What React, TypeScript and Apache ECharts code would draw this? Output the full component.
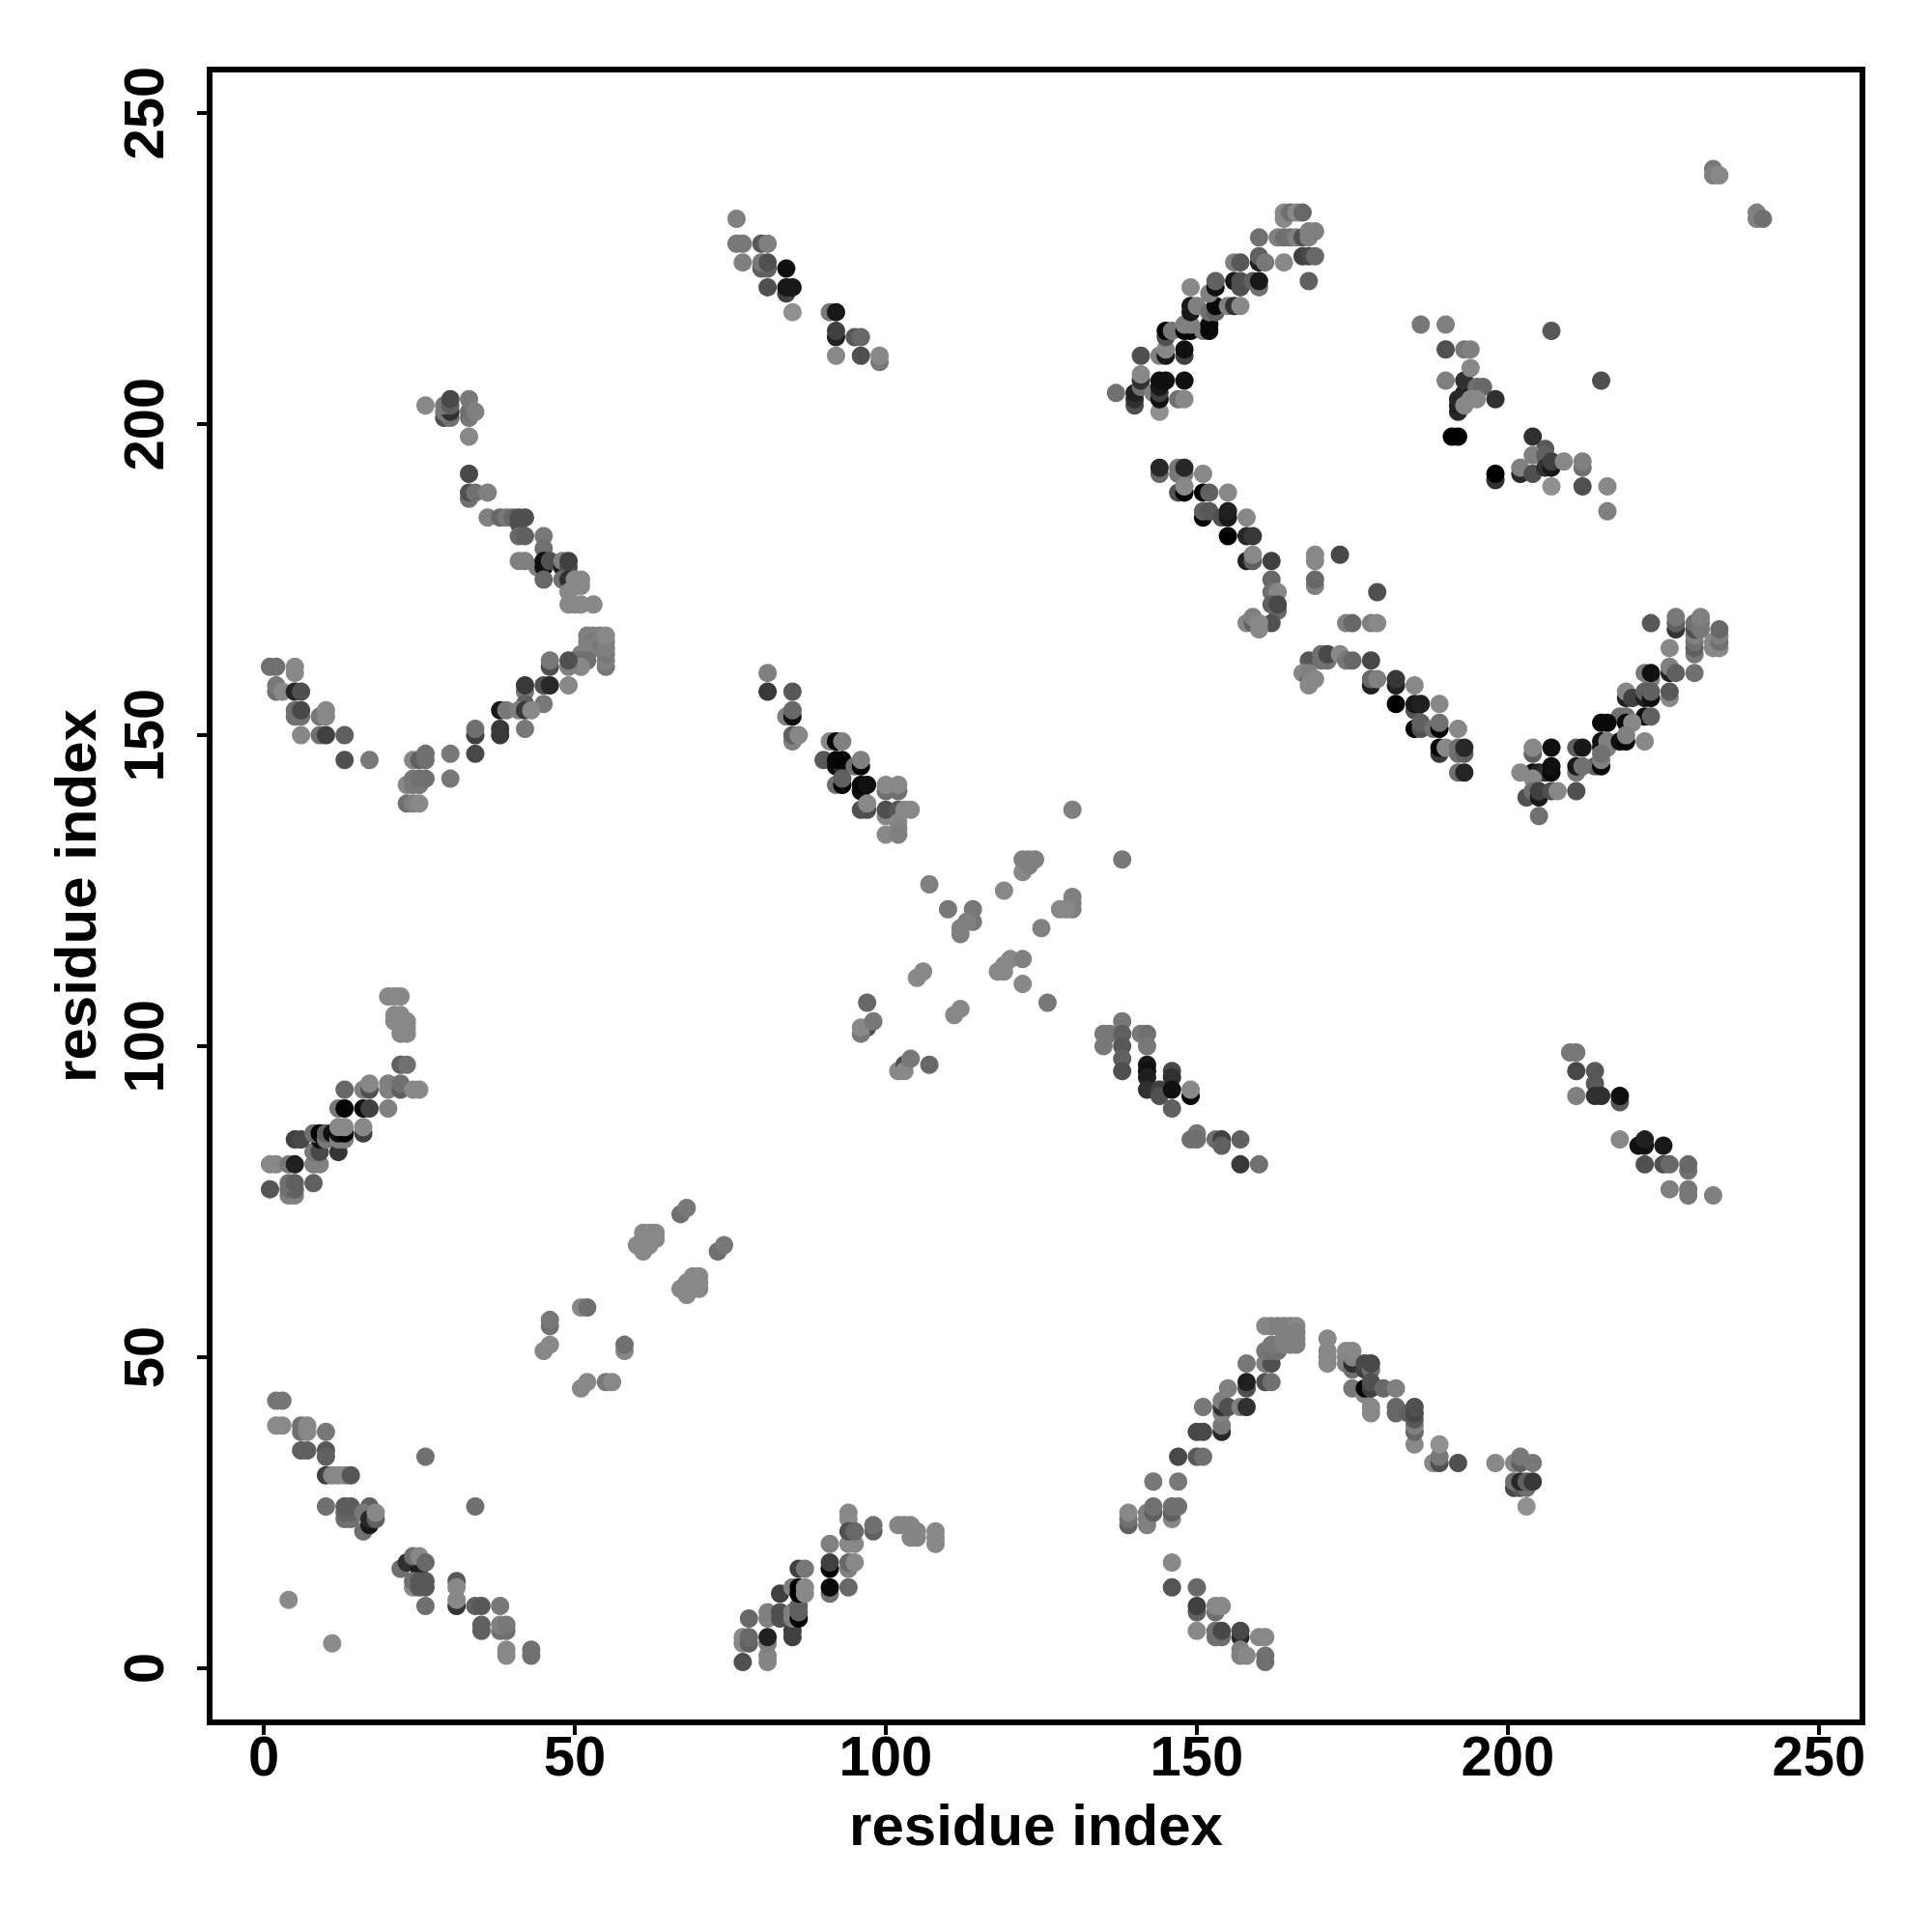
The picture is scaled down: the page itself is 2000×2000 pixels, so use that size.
import React, { useEffect, useRef } from "react";
import * as echarts from "echarts";

type P = [number, number, number];

const tickValues = [0, 50, 100, 150, 200, 250];
const axisTitle = "residue index";

const lowerLeftA: P[] = [[2,43,0x77],[3,43,0x77],[2,39,0x8a],[3,39,0x8a],[6,39,0x70],[6,38,0x70],[7,39,0x88],[7,38,0x88],[10,38,0x78],[6,35,0x60],[7,35,0x60],[10,35,0x58],[10,34,0x60],[10,31,0x40],[11,31,0x85],[12,31,0x88],[13,31,0x88],[14,31,0x55],[10,26,0x70],[13,24,0x70],[14,24,0x70],[13,25,0x64],[14,25,0x64],[13,26,0x5c],[14,26,0x5c],[16,22,0x70],[17,26,0x60],[16,25,0x78],[17,23,0x18],[17,24,0x28],[18,24,0x60],[18,25,0x88],[26,34,0x70],[34,26,0x70],[4,11,0x8a],[11,4,0x8c]];
const lowerLeftB: P[] = [[22,16,0x70],[23,17,0x30],[25,16,0x20],[24,18,0x70],[25,18,0x88],[26,17,0x68],[24,13,0x88],[24,14,0x70],[25,13,0x58],[25,14,0x58],[26,13,0x58],[26,14,0x58],[26,10,0x70],[31,10,0x35],[31,14,0x58],[31,13,0x88],[31,11,0x88],[34,10,0x60],[35,10,0x58],[38,10,0x78],[35,6,0x60],[35,7,0x60],[38,6,0x70],[39,6,0x70],[38,7,0x80],[39,7,0x78],[39,3,0x88],[39,2,0x88],[43,3,0x70],[43,2,0x70]];
const lowerMid: P[] = [[77,1,0x50],[81,1,0x85],[81,2,0x85],[77,4,0x88],[77,5,0x88],[78,4,0x60],[78,5,0x68],[78,8,0x68],[81,4,0x80],[81,5,0x20],[81,8,0x80],[81,9,0x80],[83,12,0x40],[83,8,0x50],[83,9,0x50],[85,5,0x40],[85,6,0x40],[85,8,0x80],[85,9,0x80],[86,8,0x00],[86,9,0x60],[86,10,0x60],[85,13,0x80],[86,12,0x00],[86,13,0x00],[87,12,0x88],[87,13,0x88],[86,16,0x40],[87,16,0x78],[91,16,0x00],[91,17,0x40],[91,12,0x70],[91,13,0x08],[91,20,0x80],[94,16,0x80],[94,17,0x68],[95,17,0x88],[94,13,0x68],[94,25,0x88],[94,24,0x88],[94,20,0x88],[95,20,0x88],[94,22,0x50],[95,22,0x68],[98,22,0x60],[98,23,0x70],[102,23,0x85],[103,23,0x85],[104,23,0x85],[104,22,0x85],[104,21,0x85],[105,22,0x85],[105,21,0x85],[108,22,0x88],[108,21,0x88],[108,20,0x88]];
const lowerRightLow: P[] = [[146,17,0x88],[146,13,0x55],[150,13,0x68],[150,9,0x60],[150,10,0x40],[153,9,0x70],[153,10,0x88],[154,10,0x88],[150,6,0x88],[153,5,0x70],[154,5,0x70],[153,6,0x70],[154,6,0x48],[157,5,0x28],[157,6,0x48],[157,3,0x80],[157,2,0x80],[158,2,0x88],[160,5,0x88],[161,5,0x88],[161,1,0x70],[161,2,0x70]];
const lowerRightUpLeft: P[] = [[139,23,0x60],[139,24,0x70],[139,25,0x88],[142,23,0x80],[142,24,0x80],[142,25,0x80],[143,25,0x60],[143,26,0x70],[146,24,0x88],[146,25,0x60],[146,26,0x70],[147,26,0x70],[143,30,0x78],[147,30,0x78],[147,34,0x48],[150,34,0x58],[151,34,0x70],[150,38,0x48],[151,38,0x48],[154,38,0x28],[154,39,0x78],[151,42,0x78],[154,41,0x80],[154,42,0x30],[154,43,0x80],[155,42,0x50],[155,45,0x80],[157,42,0x80],[158,42,0x30],[158,45,0x50],[158,46,0x20],[158,49,0x78],[161,46,0x50],[162,46,0x70],[161,49,0x80],[162,49,0x50],[161,51,0x78],[162,51,0x70],[163,51,0x70],[162,52,0x78],[161,55,0x88],[162,55,0x84],[163,55,0x80],[164,55,0x80],[165,55,0x80],[166,55,0x88],[164,54,0x80],[165,54,0x80],[166,54,0x80],[164,53,0x80],[165,53,0x80],[166,53,0x80],[164,52,0x80],[165,52,0x80],[166,52,0x80]];
const lowerRightUpRight: P[] = [[171,53,0x88],[171,51,0x88],[171,50,0x88],[171,49,0x88],[174,49,0x80],[174,50,0x84],[174,51,0x88],[175,48,0x70],[175,49,0x30],[175,50,0x84],[175,51,0x88],[177,48,0x40],[177,49,0x48],[178,48,0x70],[178,49,0x48],[175,45,0x78],[177,44,0x88],[177,45,0x08],[178,45,0x40],[178,46,0x50],[180,45,0x68],[182,45,0x80],[178,41,0x88],[178,42,0x88],[182,41,0x68],[182,42,0x68],[184,41,0x60],[185,36,0x88],[185,38,0x68],[185,39,0x80],[185,40,0x58],[185,41,0x48],[185,42,0x50],[188,33,0x88],[189,33,0x50],[189,34,0x78],[189,36,0x90],[192,33,0x50],[198,33,0x88],[201,33,0x88],[202,33,0x60],[202,34,0x78],[204,33,0x78],[201,29,0x48],[202,29,0x58],[203,29,0x70],[201,30,0x70],[202,30,0x28],[203,30,0x60],[204,30,0x38],[203,26,0x90]];
const leftMid: P[] = [[1,77,0x55],[4,76,0x80],[5,76,0x80],[4,77,0x70],[5,77,0x60],[4,78,0x70],[5,78,0x60],[8,78,0x60],[1,81,0x88],[2,81,0x88],[4,81,0x78],[5,81,0x20],[8,81,0x80],[9,81,0x80],[8,83,0x78],[9,83,0x48],[12,83,0x35],[5,85,0x40],[6,85,0x48],[9,85,0x10],[8,86,0x70],[9,86,0x00],[10,85,0x78],[10,86,0x60],[11,86,0x10],[12,85,0x80],[13,85,0x80],[12,86,0x10],[13,86,0x00],[12,87,0x88],[13,87,0x88],[16,86,0x40],[16,87,0x88],[12,90,0x78],[13,90,0x05],[16,90,0x08],[17,90,0x40],[20,90,0x80],[13,93,0x68],[16,93,0x80],[17,93,0x50],[17,94,0x88],[20,93,0x80],[20,94,0x80],[22,93,0x60],[22,94,0x70],[24,93,0x88],[25,93,0x88],[22,97,0x60],[23,97,0x70],[20,108,0x88],[21,108,0x88],[22,108,0x88],[21,105,0x88],[22,105,0x88],[21,104,0x88],[22,104,0x88],[23,104,0x88],[22,103,0x88],[23,103,0x88],[22,102,0x88],[23,102,0x88]];
const centreLow: P[] = [[45,51,0x88],[46,52,0x88],[46,55,0x70],[46,56,0x78],[51,58,0x88],[52,58,0x70],[58,51,0x88],[58,52,0x70],[51,45,0x88],[52,46,0x88],[55,46,0x78],[56,46,0x88],[60,68,0x88],[61,67,0x88],[61,68,0x88],[62,68,0x88],[61,69,0x88],[62,69,0x88],[63,69,0x88],[61,70,0x88],[62,70,0x88],[63,70,0x88],[67,73,0x70],[68,74,0x78],[73,67,0x70],[74,68,0x78],[67,61,0x88],[68,60,0x88],[68,62,0x88],[69,61,0x88],[70,61,0x88],[69,62,0x88],[70,62,0x88],[69,63,0x88],[70,63,0x88]];
const leftUpperArc: P[] = [[26,203,0x88],[29,201,0x50],[30,201,0x70],[29,202,0x78],[30,202,0x30],[29,203,0x78],[30,203,0x60],[30,204,0x48],[33,201,0x78],[33,202,0x70],[33,204,0x78],[34,202,0x80],[33,198,0x88],[33,192,0x48],[33,188,0x70],[33,189,0x50],[34,189,0x70],[36,189,0x80],[36,185,0x80],[38,185,0x68],[39,185,0x78],[40,185,0x68],[41,184,0x50],[41,185,0x50],[42,185,0x50],[41,182,0x68],[42,182,0x60],[45,182,0x78],[45,180,0x70],[41,178,0x80],[42,178,0x80],[44,177,0x80],[45,177,0x10],[45,178,0x10],[46,178,0x50],[48,177,0x20],[48,178,0x80],[49,177,0x50],[49,178,0x40],[45,175,0x68],[48,175,0x70],[49,175,0x30],[50,174,0x88],[50,175,0x88],[51,174,0x88],[51,175,0x88],[49,173,0x88],[49,171,0x88],[50,171,0x88],[51,171,0x88],[53,171,0x88]];
const leftLowerArc: P[] = [[52,166,0x80],[53,166,0x80],[54,166,0x80],[52,165,0x80],[53,165,0x78],[54,165,0x80],[52,164,0x80],[54,164,0x78],[55,161,0x78],[55,162,0x80],[55,163,0x78],[55,164,0x80],[55,165,0x80],[55,166,0x88],[51,163,0x80],[52,163,0x80],[50,162,0x78],[51,162,0x70],[52,162,0x70],[51,161,0x88],[49,161,0x80],[49,162,0x50],[46,161,0x50],[46,162,0x78],[42,157,0x78],[42,158,0x38],[45,158,0x50],[46,158,0x28],[49,158,0x88],[42,155,0x60],[45,155,0x78],[38,154,0x18],[39,154,0x78],[41,154,0x80],[42,154,0x38],[43,154,0x88],[42,151,0x78],[38,150,0x38],[38,151,0x38],[34,150,0x40],[34,151,0x70],[34,147,0x48],[30,147,0x78],[30,143,0x78],[24,146,0x88],[25,146,0x60],[26,146,0x70],[26,147,0x70],[23,142,0x88],[24,142,0x78],[25,142,0x78],[24,143,0x78],[25,143,0x70],[26,143,0x70],[23,139,0x70],[24,139,0x80],[25,139,0x88],[1,161,0x70],[2,161,0x70],[5,160,0x88],[5,161,0x88],[2,157,0x70],[2,158,0x78],[3,157,0x88],[5,157,0x25],[6,157,0x50],[5,153,0x70],[5,154,0x70],[6,153,0x70],[6,154,0x48],[9,153,0x78],[10,153,0x88],[10,154,0x88],[6,150,0x88],[9,150,0x70],[10,150,0x40],[13,150,0x60],[13,146,0x50],[17,146,0x78]];
const topMid: P[] = [[76,233,0x80],[76,229,0x78],[77,229,0x78],[77,226,0x80],[80,229,0x58],[81,229,0x80],[80,225,0x60],[81,225,0x60],[80,226,0x78],[81,226,0x50],[81,222,0x50],[84,225,0x10],[84,221,0x40],[84,222,0x18],[85,222,0x18],[85,218,0x90],[91,218,0x78],[92,218,0x18],[92,214,0x20],[92,215,0x40],[95,214,0x58],[96,214,0x68],[92,211,0x88],[96,211,0x50],[99,210,0x78],[99,211,0x88]];
const midLeft: P[] = [[81,160,0x80],[81,157,0x38],[85,157,0x58],[84,153,0x80],[85,153,0x10],[85,154,0x68],[85,149,0x80],[85,150,0x60],[86,150,0x88],[91,149,0x88],[92,149,0x05],[93,149,0x80],[90,146,0x58],[92,145,0x10],[93,145,0x30],[92,146,0x08],[93,146,0x05],[95,145,0x70],[96,145,0x00],[96,146,0x80],[92,142,0x70],[93,142,0x00],[93,143,0x60],[96,141,0x10],[96,142,0x05],[97,142,0x10],[96,138,0x50],[97,138,0x50],[97,139,0x88],[100,141,0x70],[102,141,0x70],[100,142,0x88],[102,142,0x88],[100,137,0x88],[100,138,0x50],[102,138,0x58],[103,138,0x88],[104,138,0x88],[102,136,0x88],[102,135,0x84],[100,134,0x88],[102,134,0x80]];
const centreHigh: P[] = [[97,107,0x68],[97,103,0x50],[96,102,0x78],[96,103,0x88],[98,104,0x78],[102,96,0x88],[103,97,0x50],[103,96,0x88],[104,98,0x78],[107,97,0x68],[105,111,0x88],[106,112,0x88],[111,105,0x88],[112,106,0x88],[130,138,0x80],[138,130,0x78],[122,128,0x88],[123,129,0x80],[122,130,0x80],[123,130,0x80],[124,130,0x80],[119,125,0x88],[125,119,0x80],[130,124,0x80],[130,123,0x80],[130,122,0x80],[128,122,0x88],[129,122,0x88],[120,114,0x88],[122,114,0x80],[118,112,0x88],[119,112,0x88],[119,113,0x88],[107,126,0x80],[110,122,0x78],[114,122,0x78],[114,120,0x78],[113,120,0x80],[112,119,0x80],[112,118,0x80],[126,107,0x78],[122,110,0x88]];
const midRightLow: P[] = [[135,100,0x78],[135,102,0x78],[136,102,0x78],[138,104,0x78],[138,102,0x60],[138,100,0x58],[138,98,0x60],[138,96,0x50],[141,102,0x78],[142,102,0x70],[142,100,0x78],[142,97,0x18],[142,96,0x10],[142,95,0x20],[142,93,0x30],[144,93,0x40],[144,92,0x50],[146,96,0x48],[146,95,0x30],[146,93,0x10],[146,90,0x60],[149,92,0x08],[149,93,0x88],[150,86,0x78],[149,85,0x70],[150,85,0x70],[153,85,0x70],[154,85,0x40],[154,84,0x60],[157,85,0x60],[157,81,0x38],[160,81,0x70],[210,99,0x78],[211,99,0x78],[211,96,0x48],[214,96,0x58],[214,94,0x58],[211,92,0x80],[214,92,0x30],[215,92,0x30],[218,91,0x58],[218,92,0x10],[218,85,0x88],[221,84,0x10],[222,84,0x10],[222,85,0x20],[225,84,0x18],[222,81,0x50],[225,81,0x50],[226,81,0x68],[226,77,0x80],[229,80,0x70],[229,81,0x68],[229,76,0x78],[229,77,0x78],[233,76,0x80]];
const topRightArc: P[] = [[137,205,0x70],[140,203,0x50],[140,204,0x30],[140,205,0x20],[141,206,0x70],[141,207,0x30],[141,208,0x88],[141,211,0x50],[143,205,0x80],[144,202,0x90],[144,204,0x10],[144,205,0x40],[144,206,0x18],[144,207,0x10],[145,207,0x10],[147,204,0x70],[148,204,0x88],[148,207,0x10],[144,211,0x80],[145,211,0x18],[145,212,0x88],[148,211,0x40],[148,212,0x10],[145,214,0x50],[145,215,0x00],[146,215,0x78],[148,215,0x05],[149,215,0x05],[148,216,0x80],[149,216,0x80],[151,215,0x80],[152,215,0x08],[152,216,0x08],[149,218,0x18],[149,219,0x18],[150,219,0x80],[149,222,0x88],[152,218,0x70],[153,218,0x60],[153,219,0x08],[152,221,0x80],[153,222,0x10],[153,223,0x60],[155,219,0x80],[156,219,0x30],[157,219,0x88],[156,223,0x18],[157,222,0x50],[157,223,0x50],[159,223,0x60],[160,222,0x70],[160,223,0x18],[156,226,0x80],[157,226,0x58],[160,230,0x70],[160,226,0x20],[160,227,0x60],[161,226,0x78],[164,226,0x88],[163,230,0x80],[164,230,0x70],[165,230,0x70],[166,230,0x80],[167,230,0x50],[168,230,0x80],[168,231,0x80],[169,231,0x80],[164,233,0x88],[164,234,0x88],[165,234,0x70],[166,234,0x88],[167,234,0x68],[167,227,0x40],[168,227,0x48],[169,227,0x68],[168,223,0x60]];
const topRightSmall: P[] = [[186,216,0x78],[190,216,0x80],[207,215,0x58],[190,212,0x50],[193,212,0x78],[194,212,0x80],[215,207,0x50],[190,207,0x80],[193,205,0x20],[193,207,0x30],[194,209,0x88],[195,206,0x70],[196,206,0x68],[192,202,0x28],[192,203,0x20],[192,204,0x28],[193,203,0x88],[194,204,0x88],[195,204,0x88],[198,204,0x30],[191,198,0x00],[192,198,0x00],[204,198,0x30],[206,196,0x58],[204,195,0x80],[206,195,0x60],[202,192,0x28],[202,193,0x80],[204,192,0x50],[206,193,0x30],[207,193,0x18],[207,194,0x40],[209,194,0x88],[212,193,0x70],[212,194,0x80],[198,191,0x30],[198,192,0x00],[207,190,0x90],[212,190,0x50],[216,190,0x88],[216,186,0x80],[233,241,0x78],[233,240,0x80],[234,240,0x88],[240,234,0x80],[240,233,0x80],[241,233,0x70]];
const rightDiagonal: P[] = [[144,192,0x68],[144,193,0x28],[147,192,0x78],[147,193,0x78],[148,192,0x78],[148,193,0x28],[151,192,0x88],[147,189,0x50],[148,189,0x00],[148,190,0x88],[151,189,0x00],[152,189,0x60],[155,189,0x88],[151,185,0x08],[151,186,0x60],[152,186,0x58],[154,185,0x50],[155,185,0x18],[155,186,0x20],[158,185,0x88],[155,182,0x00],[158,182,0x28],[159,182,0x38],[158,178,0x20],[159,178,0x60],[159,179,0x88],[162,178,0x40],[162,175,0x68],[162,173,0x70],[163,173,0x88],[162,171,0x60],[163,170,0x68],[163,171,0x48],[162,168,0x50],[158,168,0x88],[159,168,0x60],[159,169,0x80],[160,167,0x88],[160,168,0x88],[169,178,0x88],[169,179,0x88],[169,174,0x80],[169,175,0x68],[173,179,0x48],[179,173,0x50],[174,168,0x80],[175,168,0x68],[178,168,0x80],[179,168,0x88],[168,162,0x58],[170,162,0x70],[171,162,0x70],[170,163,0x70],[171,163,0x48],[173,163,0x88],[174,162,0x78],[175,162,0x68],[178,162,0x48],[167,160,0x88],[168,159,0x60],[168,160,0x80],[169,159,0x88],[168,158,0x88],[178,158,0x20],[178,159,0x68],[179,159,0x80],[182,158,0x20],[182,159,0x38],[185,158,0x88],[182,155,0x00],[185,154,0x50],[185,155,0x18],[186,155,0x20],[189,155,0x88],[185,151,0x08],[186,151,0x50],[186,152,0x60],[188,151,0x70],[189,151,0x00],[189,152,0x70],[192,151,0x88],[189,147,0x38],[189,148,0x08],[190,148,0x88],[192,147,0x70],[192,148,0x70],[193,147,0x60],[193,148,0x28],[192,144,0x70],[193,144,0x25]];
const rightUpperArc: P[] = [[223,168,0x58],[227,167,0x35],[227,168,0x60],[227,169,0x78],[230,163,0x78],[230,164,0x60],[230,165,0x70],[230,166,0x80],[230,167,0x50],[230,168,0x70],[231,167,0x78],[231,168,0x78],[231,169,0x80],[233,164,0x88],[233,165,0x88],[234,164,0x88],[234,165,0x70],[234,166,0x80],[234,167,0x68],[226,164,0x88],[226,160,0x20],[226,161,0x80],[227,160,0x60],[230,160,0x70],[222,160,0x78],[223,159,0x80],[223,160,0x10],[226,156,0x88],[226,157,0x58],[219,156,0x20],[219,157,0x88],[220,156,0x40],[222,156,0x20],[222,157,0x60],[223,156,0x10],[223,157,0x60],[218,153,0x70],[219,153,0x70],[222,153,0x10],[223,153,0x60],[215,152,0x08],[216,152,0x08],[219,152,0x08],[220,152,0x88],[222,149,0x88],[215,148,0x10],[216,148,0x80],[215,149,0x10],[216,149,0x80],[218,149,0x10],[219,149,0x08],[219,150,0x80],[204,147,0x60],[204,148,0x88],[207,148,0x10],[211,148,0x60],[212,148,0x18],[214,145,0x60],[215,145,0x08],[215,146,0x80],[215,147,0x70],[204,144,0x10],[205,144,0x20],[206,144,0x30],[202,144,0x88],[207,144,0x08],[207,145,0x10],[204,143,0x88],[211,144,0x78],[211,145,0x18],[212,145,0x70],[203,140,0x50],[204,141,0x70],[205,140,0x18],[205,141,0x40],[207,141,0x50],[208,141,0x88],[211,141,0x50],[205,137,0x70]];

const allPoints: P[] = [
  ...lowerLeftA, ...lowerLeftB, ...lowerMid, ...lowerRightLow, ...lowerRightUpLeft, ...lowerRightUpRight,
  ...leftMid, ...centreLow, ...leftUpperArc, ...leftLowerArc, ...topMid, ...midLeft, ...centreHigh,
  ...midRightLow, ...topRightArc, ...topRightSmall, ...rightDiagonal, ...rightUpperArc,
];

const font = "Liberation Sans";

function axis(extra: object) {
  return {
    type: "value",
    min: -8.7,
    max: 257,
    name: axisTitle,
    nameLocation: "middle",
    nameTextStyle: { fontFamily: font, fontWeight: "bold", fontSize: 60, color: "#000" },
    splitLine: { show: false },
    axisLine: { show: false, onZero: false },
    axisTick: { show: true, length: 13, lineStyle: { color: "#000", width: 4 }, customValues: tickValues },
    ...extra,
  };
}

export default function App() {
  const ref = useRef<HTMLDivElement>(null);
  useEffect(() => {
    const chart = echarts.init(ref.current!, undefined, { renderer: "svg", width: 2000, height: 2000 });
    const labelStyle = { fontFamily: font, fontWeight: "bold", fontSize: 58, color: "#000", customValues: tickValues };
    chart.setOption({
      animation: false,
      backgroundColor: "#fff",
      grid: { left: 217, top: 72, width: 1711, height: 1711, show: true, borderWidth: 6, borderColor: "#000", backgroundColor: "transparent" },
      xAxis: axis({ nameGap: 76, axisLabel: { ...labelStyle, margin: 5 } }),
      yAxis: axis({ nameGap: 109, axisLabel: { ...labelStyle, rotate: 90, margin: 40, verticalAlign: "bottom", align: "center" } }),
      series: [
        {
          type: "scatter",
          symbol: "circle",
          symbolSize: 19,
          data: allPoints,
          progressive: 0,
          itemStyle: {
            opacity: 1,
            color: (p: any) => {
              const g = p.data[2];
              return `rgb(${g},${g},${g})`;
            },
          },
        },
      ],
    });
    return () => chart.dispose();
  }, []);
  return <div ref={ref} style={{ position: "absolute", left: 0, top: 0, width: 2000, height: 2000 }} />;
}
